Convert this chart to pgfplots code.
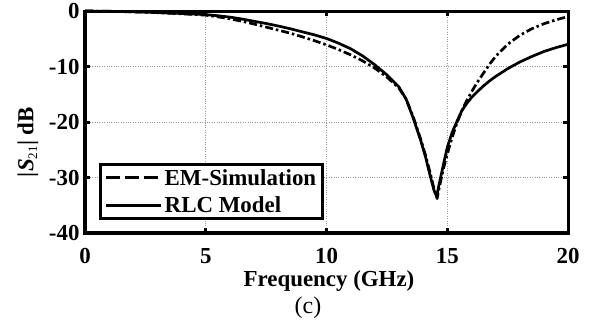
\documentclass[border=0pt]{standalone}
\usepackage{fontspec}
\setmainfont{Liberation Serif}
\usepackage{pgfplots}
\pgfplotsset{compat=1.18}
\pgfplotstableread{
x y
0 0
1 -0.05
2 -0.15
3 -0.3
4 -0.5
5 -0.75
5.5 -1.05
6 -1.4
6.5 -1.85
7 -2.35
7.5 -2.9
8 -3.45
8.5 -4.0
9 -4.65
9.5 -5.35
10 -6.1
10.5 -6.95
11 -7.9
11.5 -9.0
12 -10.3
12.5 -11.9
13 -13.9
13.3 -15.9
13.6 -19.2
13.9 -23.1
14.1 -26
14.3 -29.3
14.45 -32
14.58 -33.8
14.68 -31.6
14.8 -29.2
14.9 -27.4
15.0 -25.8
15.2 -22.8
15.4 -20.2
15.6 -18.0
15.8 -16.2
16.0 -14.6
16.25 -12.8
16.5 -11.2
16.75 -9.6
17 -8.2
17.5 -6.0
18 -4.4
18.5 -3.2
19 -2.3
19.5 -1.6
20 -1.0
}\emdata
\pgfplotstableread{
x y
0 0
1 -0.05
2 -0.15
3 -0.28
4 -0.45
5 -0.65
5.5 -0.85
6 -1.1
6.5 -1.45
7 -1.85
7.5 -2.25
8 -2.7
8.5 -3.2
9 -3.75
9.5 -4.3
10 -4.95
10.5 -5.8
11 -6.8
11.5 -8.1
12 -9.7
12.5 -11.5
13 -13.7
13.3 -15.9
13.6 -19.4
13.9 -23.3
14.1 -26.3
14.3 -29.8
14.45 -32.3
14.56 -33.4
14.65 -31.5
14.76 -29.3
14.9 -26.5
15.0 -24.6
15.2 -21.9
15.4 -19.9
15.6 -18.0
15.8 -16.7
16.0 -15.6
16.25 -14.5
16.5 -13.5
16.75 -12.6
17 -11.8
17.5 -10.4
18 -9.2
18.5 -8.2
19 -7.3
19.5 -6.6
20 -6.0
}\rlcdata
\begin{document}
\begin{tikzpicture}
\begin{axis}[
  at={(0,0)}, anchor=south west,
  width=483bp, height=222bp, scale only axis,
  clip=false,
  xmin=0, xmax=20, ymin=-40, ymax=0,
  xtick={0,5,10,15,20}, ytick={-40,-30,-20,-10,0},
  grid=major,
  major grid style={dotted, black!40, line width=0.9bp},
  axis line style={line width=3bp},
  tick style={black, line width=3bp},
  major tick length=5bp,
  tick align=inside,
  ticklabel style={font=\fontsize{23}{25}\selectfont\bfseries},
  /pgf/number format/assume math mode=true,
  xticklabel style={yshift=-12bp},
  yticklabel style={xshift=-2bp},
  legend style={at={(rel axis cs:0.029,0.059)}, anchor=south west,
    draw=black, line width=3bp, fill=white,
    font=\fontsize{23}{25}\selectfont\bfseries,
    inner xsep=4bp, inner ysep=2bp, row sep=5bp,
    nodes={inner sep=2.5bp}},
  legend cell align=left,
  legend image code/.code={\draw[#1] (0bp,0bp) -- (55bp,0bp);},
]
\addplot[forget plot, black, line width=2.7bp, line join=round, dash pattern=on 8bp off 3bp on 2.5bp off 3bp] table[x=x,y=y] {\emdata};
\addplot[forget plot, black, line width=2.7bp, line join=round] table[x=x,y=y] {\rlcdata};
\addlegendimage{black, line width=2.7bp, dash pattern=on 14bp off 5bp}
\addlegendentry{EM-Simulation}
\addlegendimage{black, line width=2.7bp}
\addlegendentry{RLC Model}
\end{axis}
\node[anchor=base, font=\fontsize{23}{25}\selectfont\bfseries] at (244bp,-53.7bp) {Frequency (GHz)};
\node[anchor=base, font=\fontsize{24}{26}\selectfont] at (223bp,-80bp) {(c)};
\node[rotate=90, anchor=center, font=\fontsize{23}{25}\selectfont\bfseries] at (-57bp,91bp) {|\textit{S}\textsubscript{\fontsize{13}{14}\selectfont\mdseries 21}| dB};
\pgfresetboundingbox
\path (-85bp,-87bp) rectangle (511bp,233bp);
\end{tikzpicture}
\end{document}
